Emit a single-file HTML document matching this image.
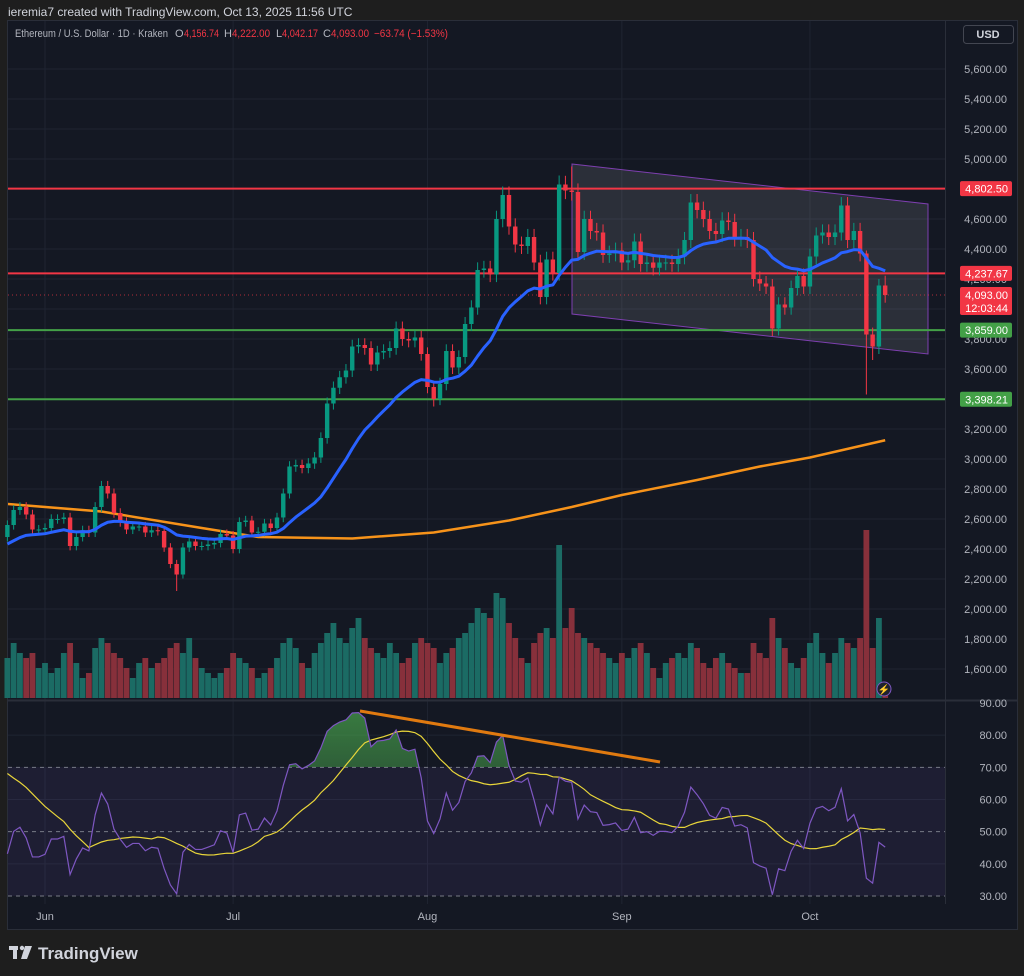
<!DOCTYPE html>
<html><head><meta charset="utf-8"><style>
html,body{margin:0;padding:0;background:#1e1e1e;}
svg{display:block;font-family:"Liberation Sans",sans-serif;}
</style></head><body>
<svg id="c" width="1024" height="976" viewBox="0 0 1024 976" xmlns="http://www.w3.org/2000/svg">
<defs>
<linearGradient id="gfill" x1="0" y1="0" x2="0" y2="1"><stop offset="0" stop-color="#4caf50" stop-opacity="0.65"/><stop offset="1" stop-color="#4caf50" stop-opacity="0.05"/></linearGradient>
<clipPath id="above70"><rect x="8" y="700" width="937" height="67"/></clipPath>
<clipPath id="plot"><rect x="8" y="21" width="937" height="883"/></clipPath>
</defs>
<rect x="0" y="0" width="1024" height="976" fill="#1e1e1e"/>
<text x="8" y="16" font-size="12" fill="#d1d4dc">ieremia7 created with TradingView.com, Oct 13, 2025 11:56 UTC</text>
<rect x="7.5" y="20.5" width="1010" height="909" fill="#141823" stroke="#2a2e39"/>
<g id="grid"></g>
<rect x="8" y="767" width="937" height="129" fill="#7e57c2" fill-opacity="0.1"/>
<g id="ma200g" clip-path="url(#plot)"></g>
<polygon points="572,164 928,204 928,354 572,314" fill="#ffffff" fill-opacity="0.1" stroke="#7e3fb0" stroke-width="1"/>
<g id="vol"></g>
<g id="levels"></g>
<g id="candles"></g>
<g id="ema"></g>
<g id="rsi"></g>
<line x1="360" y1="711" x2="660" y2="762" stroke="#e07a10" stroke-width="3"/>
<line x1="8" y1="700.5" x2="1018" y2="700.5" stroke="#2a2e39" stroke-width="2"/>
<line x1="945.5" y1="21" x2="945.5" y2="904" stroke="#2a2e39"/>
<g id="axis"></g>
<g id="taxis"></g>
<g font-size="11">
<text x="15" y="37" fill="#b2b5be" textLength="153" lengthAdjust="spacingAndGlyphs">Ethereum / U.S. Dollar · 1D · Kraken</text>
<text x="175" y="37" fill="#b2b5be">O</text><text x="184" y="37" fill="#f23645" textLength="35" lengthAdjust="spacingAndGlyphs">4,156.74</text>
<text x="224" y="37" fill="#b2b5be">H</text><text x="232" y="37" fill="#f23645" textLength="38" lengthAdjust="spacingAndGlyphs">4,222.00</text>
<text x="276" y="37" fill="#b2b5be">L</text><text x="282" y="37" fill="#f23645" textLength="36" lengthAdjust="spacingAndGlyphs">4,042.17</text>
<text x="323" y="37" fill="#b2b5be">C</text><text x="331" y="37" fill="#f23645" textLength="38" lengthAdjust="spacingAndGlyphs">4,093.00</text>
<text x="374" y="37" fill="#f23645" textLength="74" lengthAdjust="spacingAndGlyphs">−63.74 (−1.53%)</text>
</g>
<rect x="963.5" y="25.5" width="50" height="18" rx="3" fill="#141823" stroke="#434651"/>
<text x="988" y="38" font-size="11" fill="#d1d4dc" text-anchor="middle" font-weight="bold">USD</text>
<circle cx="884" cy="689" r="7" fill="#1e222d" stroke="#7e57c2"/>
<text x="884" y="693" font-size="10" fill="#b39ddb" text-anchor="middle">⚡</text>
<g>
<rect x="9" y="946" width="9" height="4" fill="#d1d4dc"/><rect x="13" y="946" width="4" height="13" fill="#d1d4dc"/><circle cx="22" cy="948" r="2.2" fill="#d1d4dc"/><polygon points="25,946 32,946 27,959 21,959" fill="#d1d4dc"/>
<text x="38" y="959" font-size="17" font-weight="bold" fill="#d1d4dc">TradingView</text>
</g>
</svg>
<script>
// ---- data ----
const months = ["Jun","Jul","Aug","Sep","Oct"];
const monthStartIndex = [6,36,67,98,128];
const preCloses = [2680,2610,2610,2550,2540,2600,2500,2530,2520,2660,2660,2680,2530,2550,2480];
const closes = [
2560,2660,2680,2630,2530,2530,
2540,2600,2600,2610,2420,2480,2525,2510,2680,2820,2770,2640,2580,2530,2550,2550,2510,2525,2520,2410,2300,2230,2410,2450,2420,2420,2430,2440,2500,2490,
2400,2580,2590,2510,2515,2570,2540,2610,2770,2950,2960,2940,2970,3010,3140,3370,3475,3545,3590,3750,3760,3740,3630,3710,3720,3740,3870,3800,3790,3810,3700,
3480,3400,3500,3720,3610,3680,3900,4010,4260,4270,4230,4600,4760,4550,4430,4420,4480,4310,4080,4330,4240,4830,4790,4780,4380,4600,4520,4510,4360,4370,4390,
4310,4325,4450,4300,4310,4275,4310,4310,4300,4350,4460,4710,4660,4600,4520,4500,4590,4580,4470,4480,4460,4200,4170,4150,3870,4030,4010,4140,4220,4150,
4350,4490,4510,4480,4510,4690,4460,4520,4370,3830,3750,4156.74,4093];
const highOverrides = {88:4890,90:4950,137:4390,139:4200,140:4222};
const lowOverrides = {27:2120,68:3350,122:3820,137:3430,138:3660,139:3700,140:4042};
const volumes = [
40,55,45,40,45,30,
35,25,30,45,55,35,20,25,50,60,55,45,40,30,20,35,40,30,35,40,50,55,45,60,40,30,25,20,25,30,
45,40,35,30,20,25,30,40,55,60,50,35,30,45,55,65,75,60,55,70,80,60,50,45,40,55,45,35,40,55,60,
55,50,35,45,50,60,65,75,90,85,80,105,100,75,60,40,35,55,65,70,60,153,70,90,65,60,55,50,45,40,35,
45,40,50,55,45,30,20,35,40,45,40,55,50,35,30,40,45,35,30,25,25,55,45,40,80,60,50,35,30,40,
55,65,45,35,45,60,55,50,60,168,50,80,15];
const ma200Idx = [0,15,31,40,55,68,80,90,98,110,120,128,140];
const ma200Val = [2700,2650,2540,2480,2470,2510,2590,2680,2760,2860,2950,3010,3125];
const emaSeed = 2420;
const priceTicks = [5600,5400,5200,5000,4800,4600,4400,4200,4000,3800,3600,3400,3200,3000,2800,2600,2400,2200,2000,1800,1600];
const rsiTicks = [90,80,70,60,50,40,30];
const levelPrices = [4802.50,4237.67,3859.00,3398.21];
const levelColors = ["#f23645","#f23645","#43a047","#43a047"];
const lastPrice = 4093.00;

// ---- scales ----
const X = i => 45 + (i-6)*6.27;
const Y = p => 369 - (p-3600)*0.15;
const VY = v => 698 - v*1.0;
const RY = r => 703 + (90-r)*3.217;
const NS="http://www.w3.org/2000/svg";
function mk(tag,attrs,parent){const e=document.createElementNS(NS,tag);for(const k in attrs)e.setAttribute(k,attrs[k]);parent.appendChild(e);return e;}
const fmt = v => v.toLocaleString("en-US",{minimumFractionDigits:2,maximumFractionDigits:2});

// grid
const grid=document.getElementById("grid");
monthStartIndex.forEach(i=>{const l=mk("line",{x1:X(i),x2:X(i),y1:21,y2:904,stroke:"#1f2431"},grid);

});
priceTicks.forEach(p=>{const l=mk("line",{x1:8,x2:945,y1:Y(p),y2:Y(p),stroke:"#1f2431"},grid);

});
[80,60,40].forEach(r=>{const l=mk("line",{x1:8,x2:945,y1:RY(r),y2:RY(r),stroke:"#1f2431"},grid);

});

// volume
const vol=document.getElementById("vol");
const n=closes.length;
const opens=closes.map((c,i)=>i===0?preCloses[preCloses.length-1]:closes[i-1]);
opens[140]=4156.74;
for(let i=0;i<n;i++){
  const up=closes[i]>=opens[i];
  const r=mk("rect",{x:X(i)-2.9,y:VY(volumes[i]),width:5.8,height:698-VY(volumes[i]),fill:up?"#1b6b64":"#87303b"},vol);
  
  
}

// MA200 orange
const mag=document.getElementById("ma200g");
const maPl=mk("polyline",{points:ma200Idx.map((d,k)=>X(d)+","+Y(ma200Val[k])).join(" "),fill:"none",stroke:"#f7931a",'stroke-width':2.5},mag);



// levels
const lv=document.getElementById("levels");
levelPrices.forEach((p,k)=>{const l=mk("line",{x1:8,x2:945,y1:Y(p),y2:Y(p),stroke:levelColors[k],'stroke-width':2},lv);

});
const cl=mk("line",{x1:8,x2:945,y1:Y(lastPrice),y2:Y(lastPrice),stroke:"#f23645",'stroke-width':1,'stroke-dasharray':"1 3",'stroke-opacity':0.7},lv);



// candles
const cg=document.getElementById("candles");
for(let i=0;i<n;i++){
  const o=opens[i],c=closes[i],up=c>=o;
  const h=highOverrides[i]!==undefined?highOverrides[i]:Math.max(o,c)*1.012;
  const l=lowOverrides[i]!==undefined?lowOverrides[i]:Math.min(o,c)*0.988;
  const col=up?"#089981":"#f23645";
  const w=mk("line",{x1:X(i),x2:X(i),y1:Y(h),y2:Y(l),stroke:col,'stroke-width':1},cg);
  
  
  const top=Y(Math.max(o,c)),bh=Math.max(1,Y(Math.min(o,c))-top);
  const b=mk("rect",{x:X(i)-2.2,y:top,width:4.4,height:bh,fill:col},cg);
  
  
}

// EMA 20
const eg=document.getElementById("ema");
let e=emaSeed;const k=2/21;const emaPts=[];
for(let i=0;i<n;i++){e=closes[i]*k+e*(1-k);emaPts.push(X(i)+","+Y(e));}
const ep=mk("polyline",{points:emaPts.join(" "),fill:"none",stroke:"#2962ff",'stroke-width':3,'stroke-linejoin':"round"},eg);



// RSI
const rg=document.getElementById("rsi");
const all=preCloses.concat(closes);
let ag=0,al=0;
for(let j=1;j<=14;j++){const d=all[j]-all[j-1];if(d>0)ag+=d;else al-=d;}
ag/=14;al/=14;
const rsi=[];
for(let j=15;j<all.length;j++){const d=all[j]-all[j-1];ag=(ag*13+Math.max(d,0))/14;al=(al*13+Math.max(-d,0))/14;rsi.push(100-100/(1+ag/(al||1e-9)));}
const rsiMa=rsi.map((v,i)=>{let s=0;for(let j=i-13;j<=i;j++)s+=j<0?70:rsi[j];return s/14;});
[70,50,30].forEach(r=>{const l=mk("line",{x1:8,x2:945,y1:RY(r),y2:RY(r),stroke:"#787b86",'stroke-dasharray':"4 4"},rg);

});
const rp=rsi.map((v,i)=>X(i)+","+RY(v));
const fill=mk("polygon",{points:X(0)+","+RY(70)+" "+rp.join(" ")+" "+X(n-1)+","+RY(70),fill:"url(#gfill)",'clip-path':"url(#above70)"},rg);


const ym=mk("polyline",{points:rsiMa.map((v,i)=>X(i)+","+RY(v)).join(" "),fill:"none",stroke:"#e8d53a",'stroke-width':1.2},rg);


const rl=mk("polyline",{points:rp.join(" "),fill:"none",stroke:"#7e57c2",'stroke-width':1.2},rg);



// price axis
const ax=document.getElementById("axis");
priceTicks.forEach(p=>{const t=mk("text",{x:1007,y:Y(p)+4,'font-size':11,fill:"#b2b5be",'text-anchor':"end"},ax);t.textContent=fmt(p);

});
rsiTicks.forEach(r=>{const t=mk("text",{x:1007,y:RY(r)+4,'font-size':11,fill:"#b2b5be",'text-anchor':"end"},ax);t.textContent=fmt(r);

});
levelPrices.forEach((p,k)=>{
  const r=mk("rect",{x:960,y:Y(p)-7.5,width:52,height:15,rx:2,fill:levelColors[k]},ax);
  
  
  const t=mk("text",{x:1008,y:Y(p)+4,'font-size':11,fill:"#ffffff",'text-anchor':"end"},ax);t.textContent=fmt(p);
  
  
});
const lr=mk("rect",{x:960,y:Y(lastPrice)-8,width:52,height:28,rx:2,fill:"#f23645"},ax);


const lt=mk("text",{x:1008,y:Y(lastPrice)+4,'font-size':11,fill:"#fff",'text-anchor':"end"},ax);lt.textContent=fmt(lastPrice);


const ct=mk("text",{x:1008,y:Y(lastPrice)+17,'font-size':11,fill:"#fff",'text-anchor':"end"},ax);ct.textContent="12:03:44";



// time axis
const ta=document.getElementById("taxis");
monthStartIndex.forEach((i,m)=>{const t=mk("text",{x:X(i),y:920,'font-size':11,fill:"#b2b5be",'text-anchor':"middle"},ta);t.textContent=months[m];

});
</script>
</body></html>
